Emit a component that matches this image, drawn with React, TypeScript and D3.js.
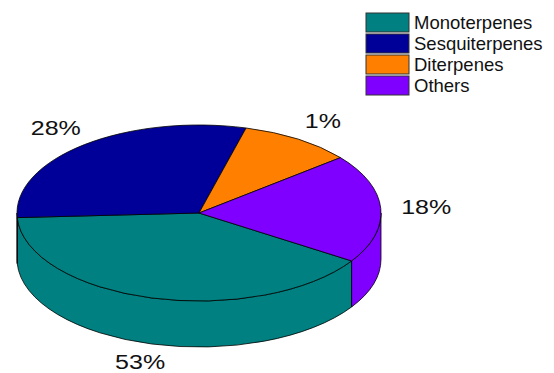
import React from "react";
import * as d3 from "d3";

const categories = ["Monoterpenes", "Sesquiterpenes", "Diterpenes", "Others"];
const sliceValues = [40, 30, 10, 20];
const percentLabels = ["53%", "28%", "1%", "18%"];
const colors = ["#008080", "#000099", "#FF8000", "#8000FF"];

const W = 554;
const H = 373;
const cx = 199;
const cy = 213;
const rx = 182;
const ry = 88;
const depth = 46;
const startDeg = 123;

function pt(a: number, dy = 0): [number, number] {
  return [cx + rx * Math.sin(a), cy - ry * Math.cos(a) + dy];
}

export default function App() {
  const pie = d3
    .pie<number>()
    .sort(null)
    .startAngle((startDeg * Math.PI) / 180)
    .endAngle((startDeg * Math.PI) / 180 + 2 * Math.PI);
  const arcs = pie(sliceValues);

  const topPath = (a0: number, a1: number) => {
    const p0 = pt(a0);
    const p1 = pt(a1);
    const large = a1 - a0 > Math.PI ? 1 : 0;
    return `M${cx},${cy}L${p0[0]},${p0[1]}A${rx},${ry} 0 ${large} 1 ${p1[0]},${p1[1]}Z`;
  };

  const sidePath = (a0: number, a1: number) => {
    const p0 = pt(a0);
    const p1 = pt(a1);
    const q1 = pt(a1, depth);
    const q0 = pt(a0, depth);
    return `M${p0[0]},${p0[1]}A${rx},${ry} 0 0 1 ${p1[0]},${p1[1]}L${q1[0]},${q1[1]}A${rx},${ry} 0 0 0 ${q0[0]},${q0[1]}Z`;
  };

  const sides: { d: string; color: string }[] = [];
  arcs.forEach((a, i) => {
    for (const k of [0, 1, 2]) {
      const lo = Math.PI / 2 + k * 2 * Math.PI;
      const hi = (3 * Math.PI) / 2 + k * 2 * Math.PI;
      const s = Math.max(a.startAngle, lo);
      const e = Math.min(a.endAngle, hi);
      if (e > s + 1e-6) sides.push({ d: sidePath(s, e), color: colors[i] });
    }
  });

  return (
    <svg
      width={W}
      height={H}
      style={{ position: "absolute", left: 0, top: 0, background: "#fff" }}
      fontFamily="'Liberation Sans', Arial, sans-serif"
    >
      <g>
        {sides.map((s, i) => (
          <path key={"s" + i} d={s.d} fill={s.color} stroke="#000" strokeWidth={0.8} />
        ))}
        {arcs.map((a, i) => (
          <path
            key={"t" + i}
            d={topPath(a.startAngle, a.endAngle)}
            fill={colors[i]}
            stroke="#000"
            strokeWidth={0.8}
            strokeLinejoin="round"
          />
        ))}
      </g>
      <g>
        {arcs.map((a, i) => {
          const mid = (a.startAngle + a.endAngle) / 2;
          const x = cx + 1.25 * rx * Math.sin(mid);
          const y = cy - 1.25 * ry * Math.cos(mid) + (Math.cos(mid) < 0 ? depth - 3 : 0);
          return (
            <text
              key={"l" + i}
              transform={`translate(${x},${y + 7}) scale(1.25,1)`}
              textAnchor="middle"
              fontSize={20}
              fill="#111"
            >
              {percentLabels[i]}
            </text>
          );
        })}
      </g>
      <g>
        {categories.map((c, i) => (
          <g key={"lg" + i} transform={`translate(366,${13 + i * 21})`}>
            <rect width={43} height={19} fill={colors[i]} stroke="#333" strokeWidth={1} />
            <text x={48} y={15.5} fontSize={18.5} fill="#111">
              {c}
            </text>
          </g>
        ))}
      </g>
    </svg>
  );
}
